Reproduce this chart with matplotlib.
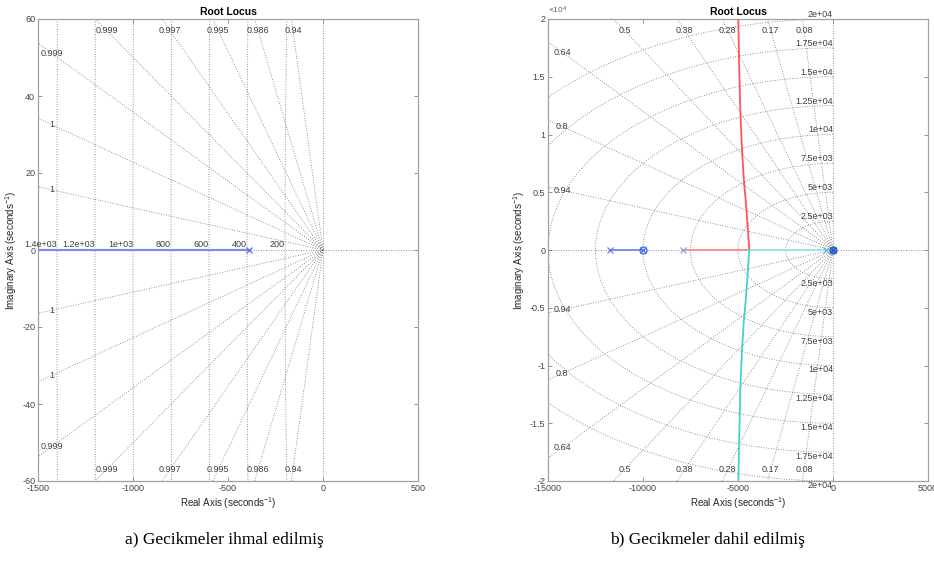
import numpy as np
import matplotlib
matplotlib.use("Agg")
import matplotlib.pyplot as plt

plt.rcParams["font.family"] = ["Liberation Sans", "DejaVu Sans"]
plt.rcParams["mathtext.fontset"] = "custom"
plt.rcParams["mathtext.rm"] = "Liberation Sans"
plt.rcParams["mathtext.it"] = "Liberation Sans:italic"
plt.rcParams["axes.unicode_minus"] = False

# ---- a) delays neglected ----
L_BRANCH_RE = [-1600, -390]
L_BRANCH_IM = [0, 0]
L_POLES_RE = [-390]
L_ZETA = [0.9406, 0.9864, 0.9947, 0.9975, 0.99875, 0.99936, 0.99974, 0.99994]
L_ZETA_LABELS = ["0.94", "0.986", "0.995", "0.997", "0.999", "0.999", "1", "1"]
L_WN = [200, 400, 600, 800, 1000, 1200, 1400]
L_WN_LABELS = ["200", "400", "600", "800", "1e+03", "1.2e+03", "1.4e+03"]
L_XTICKS = [-1500, -1000, -500, 0, 500]
L_YTICKS = [-60, -40, -20, 0, 20, 40, 60]

# ---- b) delays included ----
R_BLUE_RE = [-11737, -10000]
R_BLUE_IM = [0, 0]
R_RED_RE = [-7895, -4405, -4489, -4580, -4700, -4800, -4879, -4940, -4984]
R_RED_IM = [0, 0, 2000, 4000, 6300, 9000, 12100, 16000, 20000]
R_CYAN_RE = [-370, -4405, -4489, -4575, -4700, -4800, -4880, -4935, -4980]
R_CYAN_IM = [0, 0, -2000, -4000, -6300, -9000, -12100, -16000, -20000]
R_ZETA = [0.08, 0.17, 0.28, 0.38, 0.5, 0.64, 0.8, 0.94]
R_ZETA_LABELS = ["0.08", "0.17", "0.28", "0.38", "0.5", "0.64", "0.8", "0.94"]
R_WN = [2500, 5000, 7500, 10000, 12500, 15000, 17500, 20000]
R_WN_LABELS = ["2.5e+03", "5e+03", "7.5e+03", "1e+04", "1.25e+04",
               "1.5e+04", "1.75e+04", "2e+04"]
R_XTICKS = [-15000, -10000, -5000, 0, 5000]
R_YTICKS = [-20000, -15000, -10000, -5000, 0, 5000, 10000, 15000, 20000]
R_YTICKLABELS = ["-2", "-1.5", "-1", "-0.5", "0", "0.5", "1", "1.5", "2"]

GRID = dict(color="#707070", lw=0.6, ls=(0, (1, 2)), zorder=1)
LBL = dict(fontsize=6.5, color="#404040", zorder=3)


def draw_sgrid(ax, xlim, ylim, zetas, zlabels, wns):
    far = 10 * max(abs(xlim[0]), abs(ylim[1]))
    ax.plot([xlim[0], xlim[1]], [0, 0], **GRID)
    ax.plot([0, 0], [ylim[0], ylim[1]], **GRID)
    for z, lab in zip(zetas, zlabels):
        s = np.sqrt(1 - z ** 2) / z
        ax.plot([0, -far], [0, s * far], **GRID)
        ax.plot([0, -far], [0, -s * far], **GRID)
        xe = 0.95 * xlim[0]
        ye = 0.95 * ylim[1]
        if s * abs(xe) > ye:
            ax.text(-ye / s, ye, lab, ha="center", va="center", **LBL)
            ax.text(-ye / s, -ye, lab, ha="center", va="center", **LBL)
        else:
            ax.text(xe, s * abs(xe), lab, ha="center", va="center", **LBL)
            ax.text(xe, -s * abs(xe), lab, ha="center", va="center", **LBL)
    th = np.linspace(np.pi / 2, 3 * np.pi / 2, 400)
    for r in wns:
        ax.plot(r * np.cos(th), r * np.sin(th), **GRID)


def style_axes(ax, xlim, ylim, xticks, yticks):
    ax.set_xlim(xlim)
    ax.set_ylim(ylim)
    ax.set_xticks(xticks)
    ax.set_yticks(yticks)
    ax.tick_params(direction="in", top=True, right=True, length=3, width=0.6,
                   color="#808080", labelsize=6.5, labelcolor="#444444", pad=2)
    for sp in ax.spines.values():
        sp.set_color("#a0a0a0")
        sp.set_linewidth(0.9)
    ax.set_title("Root Locus", fontsize=7.5, fontweight="bold", pad=3)
    ax.set_xlabel("Real Axis (seconds$^{-1}$)", fontsize=7, color="#262626", labelpad=2)
    ax.set_ylabel("Imaginary Axis (seconds$^{-1}$)", fontsize=7, color="#262626", labelpad=2)


fig = plt.figure(figsize=(9.34, 5.67), dpi=100)

# ---------------- left panel ----------------
axl = fig.add_axes([38 / 934, 1 - 481 / 567, 380 / 934, 462 / 567])
lxlim, lylim = (-1500, 500), (-60, 60)
draw_sgrid(axl, lxlim, lylim, L_ZETA, L_ZETA_LABELS, L_WN)
for r, lab in zip(L_WN, L_WN_LABELS):
    axl.text(-r, 0.3, lab, ha="right", va="bottom", **LBL)
axl.plot(L_BRANCH_RE, L_BRANCH_IM, color="#7d8df0", lw=1.6, zorder=4)
axl.plot(L_POLES_RE, [0] * len(L_POLES_RE), "x", color="#5a70f0", ms=4, mew=0.9, zorder=5)
style_axes(axl, lxlim, lylim, L_XTICKS, L_YTICKS)

# ---------------- right panel ----------------
axr = fig.add_axes([548 / 934, 1 - 481 / 567, 380 / 934, 462 / 567])
rxlim, rylim = (-15000, 5000), (-20000, 20000)
draw_sgrid(axr, rxlim, rylim, R_ZETA, R_ZETA_LABELS, R_WN)
for r, lab in zip(R_WN, R_WN_LABELS):
    axr.text(0, r, lab, ha="right", va="bottom", clip_on=False, **LBL)
    axr.text(0, -r, lab, ha="right", va="top", clip_on=False, **LBL)

axr.plot(R_BLUE_RE, R_BLUE_IM, color="#7d8df0", lw=1.4, zorder=4)
axr.plot(R_RED_RE[:2], R_RED_IM[:2], color="#ff8f8f", lw=1.4, zorder=4)
axr.plot(R_RED_RE[1:], R_RED_IM[1:], color="#ff5555", lw=1.3, zorder=4)
axr.plot(R_CYAN_RE[:2], R_CYAN_IM[:2], color="#9ce6e6", lw=1.4, zorder=4)
axr.plot(R_CYAN_RE[1:], R_CYAN_IM[1:], color="#45d0d0", lw=1.3, zorder=4)

axr.plot(R_BLUE_RE[0], 0, "x", color="#6a7ef0", ms=4, mew=0.9, zorder=5)
axr.plot(R_BLUE_RE[1], 0, "o", mfc="none", mec="#4a6ee0", ms=5, mew=1.0, zorder=5)
axr.plot(R_BLUE_RE[1], 0, "x", color="#4a6ee0", ms=4, mew=0.9, zorder=5)
axr.plot(R_RED_RE[0], 0, "x", color="#8fa0f0", ms=4, mew=0.9, zorder=5)
axr.plot(R_CYAN_RE[0], 0, "x", color="#6fb0e0", ms=4, mew=0.9, zorder=5)
axr.plot(0, 0, "o", mfc="#3f80e0", mec="#2a60c0", ms=5, mew=1.0, zorder=6)
axr.plot(0, 0, "x", color="#2a60c0", ms=4, mew=0.9, zorder=6)

style_axes(axr, rxlim, rylim, R_XTICKS, R_YTICKS)
axr.set_yticklabels(R_YTICKLABELS)
axr.text(0.0, 1.006, r"$\times10^{4}$", transform=axr.transAxes, ha="left",
         va="bottom", fontsize=6, color="#606060")

# captions
cap = dict(fontsize=12.5, family=["Liberation Serif", "DejaVu Serif"], ha="center", va="center")
fig.text(224 / 934, 1 - 540 / 567, "a) Gecikmeler ihmal edilmiş", **cap)
fig.text(707 / 934, 1 - 540 / 567, "b) Gecikmeler dahil edilmiş", **cap)

fig.savefig("out.png", dpi=100)
